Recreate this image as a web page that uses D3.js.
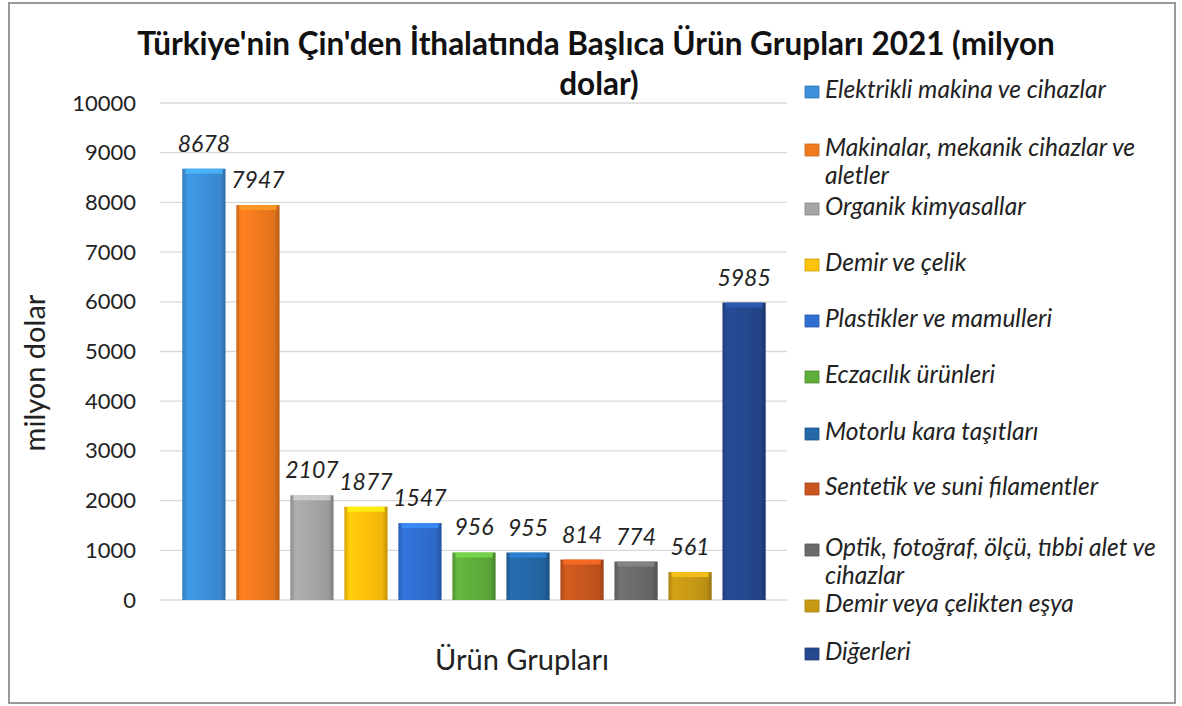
<!DOCTYPE html>
<html><head><meta charset="utf-8">
<script src="https://cdn.jsdelivr.net/npm/d3@7"></script>
<style>body{margin:0;background:#fff}svg{display:block}</style>
</head><body>
<svg id="c" width="1182" height="706"></svg>
<script>
const categories = ["Elektrikli makina ve cihazlar","Makinalar, mekanik cihazlar ve aletler","Organik kimyasallar","Demir ve çelik","Plastikler ve mamulleri","Eczacılık ürünleri","Motorlu kara taşıtları","Sentetik ve suni filamentler","Optik, fotoğraf, ölçü, tıbbi alet ve cihazlar","Demir veya çelikten eşya","Diğerleri"];
const values = [8678,7947,2107,1877,1547,956,955,814,774,561,5985];
const colors = ["#3d91db","#f27a1e","#a6a6a6","#ffc20a","#2f6fd2","#5fae3c","#2468a8","#c9561e","#6b6b6b","#c99a14","#25488f"];
const legendLines = [["Elektrikli makina ve cihazlar"],["Makinalar, mekanik cihazlar ve","aletler"],["Organik kimyasallar"],["Demir ve çelik"],["Plastikler ve mamulleri"],["Eczacılık ürünleri"],["Motorlu kara taşıtları"],["Sentetik ve suni filamentler"],["Optik, fotoğraf, ölçü, tıbbi alet ve","cihazlar"],["Demir veya çelikten eşya"],["Diğerleri"]];
const yTicks = [0,1000,2000,3000,4000,5000,6000,7000,8000,9000,10000];
const titleLines = ["Türkiye'nin Çin'den İthalatında Başlıca Ürün Grupları 2021 (milyon","dolar)"];

const svg = d3.select("#c");
const font = "Lato, 'Open Sans', sans-serif";
svg.append("rect").attr("x",9).attr("y",3).attr("width",1166).attr("height",700)
  .attr("fill","#fff").attr("stroke","#999").attr("stroke-width",2);

const x = d3.scaleBand().domain(categories).range([158,790]).paddingInner(0.2).paddingOuter(0.45);
const y = d3.scaleLinear().domain([0,10000]).range([600,103]);

// grid
svg.append("g").selectAll("line").data(yTicks).join("line")
  .attr("x1",160).attr("x2",787).attr("y1",d=>y(d)).attr("y2",d=>y(d))
  .attr("stroke","#d9d9d9").attr("stroke-width",1.3);

// y axis labels
const yAxis = d3.axisLeft(y).tickValues(yTicks).tickSize(0).tickPadding(0).tickFormat(d3.format("d"));
const ga = svg.append("g").attr("transform","translate(136,0)").call(yAxis);
ga.select(".domain").remove();
ga.selectAll("text").attr("font-family",font).attr("font-size",22).attr("fill","#222");

// gradients
const defs = svg.append("defs");
colors.forEach((c,i)=>{
  const g = defs.append("linearGradient").attr("id","g"+i).attr("x1","0").attr("x2","1").attr("y1","0").attr("y2","0");
  const base = d3.color(c);
  g.append("stop").attr("offset","0%").attr("stop-color",base.darker(0.5));
  g.append("stop").attr("offset","12%").attr("stop-color",base.brighter(0.15));
  g.append("stop").attr("offset","50%").attr("stop-color",base);
  g.append("stop").attr("offset","88%").attr("stop-color",base.darker(0.2));
  g.append("stop").attr("offset","100%").attr("stop-color",base.darker(0.8));
});

const bars = svg.append("g").selectAll("g").data(categories).join("g");
bars.append("rect").attr("x",d=>x(d)).attr("y",(d,i)=>y(values[i]))
  .attr("width",x.bandwidth()).attr("height",(d,i)=>y(0)-y(values[i]))
  .attr("fill",(d,i)=>`url(#g${i})`);
bars.append("rect").attr("x",d=>x(d)+3).attr("y",(d,i)=>y(values[i]))
  .attr("width",x.bandwidth()-6).attr("height",5)
  .attr("fill",(d,i)=>d3.color(colors[i]).brighter(0.7)).attr("opacity",0.8);
bars.append("text").attr("x",d=>x(d)+x.bandwidth()/2).attr("y",(d,i)=>y(values[i])-17)
  .attr("text-anchor","middle").attr("font-family",font).attr("font-style","italic")
  .attr("font-size",23).attr("fill","#222").text((d,i)=>values[i]);

// titles
svg.append("text").attr("font-family",font).attr("font-weight","bold")
  .attr("font-size",31.5).attr("fill","#111").attr("text-anchor","middle")
  .selectAll("tspan").data(titleLines).join("tspan").attr("x",(d,i)=>i?599:596).attr("y",(d,i)=>55+i*40).text(d=>d);
svg.append("text").attr("transform","translate(45,373) rotate(-90)").attr("text-anchor","middle")
  .attr("font-family",font).attr("font-size",29).attr("fill","#222").text("milyon dolar");
svg.append("text").attr("x",522).attr("y",670).attr("text-anchor","middle")
  .attr("font-family",font).attr("font-size",29).attr("fill","#222").text("Ürün Grupları");

// legend
const ly = [98,156,215,271,327,383,440,495,556,612,660];
const lg = svg.append("g").selectAll("g").data(categories).join("g")
  .attr("transform",(d,i)=>`translate(805,${ly[i]})`);
lg.append("rect").attr("x",0).attr("y",-12).attr("width",14).attr("height",12)
  .attr("fill",(d,i)=>colors[i]).attr("stroke",(d,i)=>d3.color(colors[i]).darker(0.6)).attr("stroke-width",0.8);
lg.append("text").attr("font-family",font).attr("font-style","italic").attr("font-size",24.5).attr("fill","#222")
  .selectAll("tspan").data((d,i)=>legendLines[i]).join("tspan")
  .attr("x",20).attr("y",(d,j)=>j*28).text(d=>d);
</script>
</body></html>
